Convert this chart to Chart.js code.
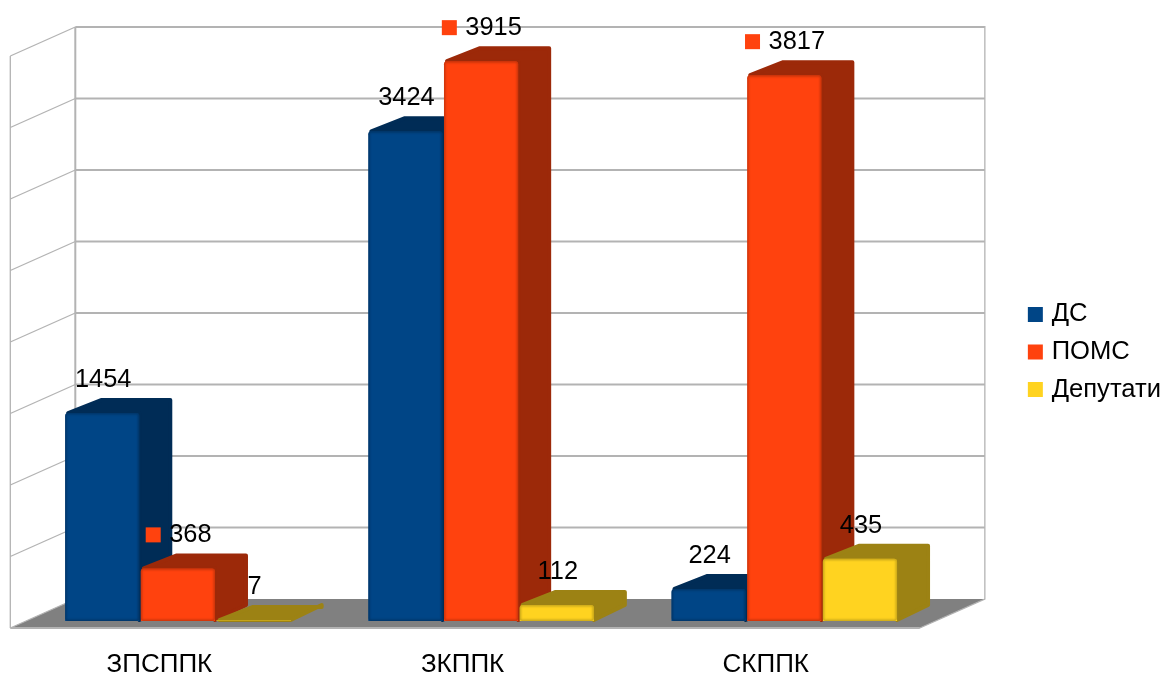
<!DOCTYPE html>
<html><head><meta charset="utf-8">
<style>html,body{margin:0;padding:0;background:#fff}canvas{display:block}</style>
<script src="https://cdn.jsdelivr.net/npm/chart.js@4"></script>
</head><body><canvas id="c" width="1163" height="677"></canvas>
<script>
const categories = ['ЗПСППК', 'ЗКППК', 'СКППК'];
const seriesDS = [1454, 3424, 224];
const seriesPOMS = [368, 3915, 3817];
const seriesDeputies = [7, 112, 435];
const gridValues = [0, 500, 1000, 1500, 2000, 2500, 3000, 3500, 4000];
const FONT = '"Liberation Sans", Arial, sans-serif';
const sideColors = ['#002c56', '#9c2909', '#9c8214'];
const edgeColors = ['#002c56', '#a82c0a', '#a88c16'];

function poly(ctx, pts){ ctx.beginPath(); pts.forEach((p,i)=> i?ctx.lineTo(p[0],p[1]):ctx.moveTo(p[0],p[1])); ctx.closePath(); }

const scene = {
  id:'scene',
  beforeDatasetsDraw(chart){
    const {ctx, chartArea:a, scales:{y}} = chart;
    const fl=a.left-16, bl=a.left+49, fr=a.right-16, br=a.right+49;
    const dB=-22, dF=7, y0=y.getPixelForValue(0), yT=y.getPixelForValue(4000);
    ctx.save();
    ctx.lineCap='butt';
    ctx.strokeStyle='#b3b3b3';
    ctx.fillStyle='#808080';
    poly(ctx,[[fl,y0+dF],[bl,y0+dB],[br,y0+dB],[fr,y0+dF]]); ctx.fill();
    gridValues.forEach(v=>{
      const p=y.getPixelForValue(v);
      ctx.lineWidth=1.3;
      ctx.beginPath(); ctx.moveTo(fl,p+dF); ctx.lineTo(bl,p+dB); ctx.stroke();
      ctx.lineWidth=2;
      if(v>0){ctx.beginPath(); ctx.moveTo(bl,p+dB); ctx.lineTo(br,p+dB); ctx.stroke();}
    });
    ctx.lineWidth=2;
    ctx.beginPath(); ctx.moveTo(bl,yT+dB); ctx.lineTo(bl,y0+dB); ctx.stroke();
    ctx.lineWidth=1.3;
    ctx.beginPath(); ctx.moveTo(br,yT+dB-1); ctx.lineTo(br,y0+dB); ctx.lineTo(fr,y0+dF); ctx.stroke();
    ctx.beginPath(); ctx.moveTo(fl,yT+dF); ctx.lineTo(fl,y0+dF); ctx.stroke();
    ctx.lineWidth=2;
    ctx.beginPath(); ctx.moveTo(fl,y0+dF); ctx.lineTo(fr,y0+dF); ctx.stroke();
    ctx.restore();
    chart.data.datasets.forEach((ds,di)=>{
      const meta=chart.getDatasetMeta(di);
      ctx.save();
      meta.data.forEach(el=>{
        const l=el.x-el.width/2, r=el.x+el.width/2, t=el.y, b=el.base;
        const dx=33, dy=-15;
        ctx.fillStyle=ctx.strokeStyle=sideColors[di];
        ctx.lineWidth=4; ctx.lineJoin='round';
        poly(ctx,[[l+3,t],[l+dx+3,t+dy+2],[r+dx-2,t+dy+2],[r+dx-2,b+dy-1],[r,b-1],[r,t]]);
        ctx.fill(); ctx.stroke();
      });
      meta.controller.draw();
      meta.data.forEach(el=>{
        const l=el.x-el.width/2, w=el.width, t=el.y, h=el.base-el.y;
        ctx.save();
        ctx.beginPath(); ctx.roundRect(l,t,w,h,3); ctx.clip();
        ctx.filter='blur(1.2px)';
        ctx.globalAlpha=0.75;
        ctx.strokeStyle=edgeColors[di]; ctx.lineWidth=2.5;
        ctx.strokeRect(l,t,w,h);
        ctx.restore();
      });
      ctx.restore();
    });
  },
  beforeDatasetDraw(){ return false; },
  afterDatasetsDraw(chart){
    const {ctx}=chart;
    ctx.save();
    ctx.font='25.4px '+FONT;
    ctx.textBaseline='middle'; ctx.textAlign='left';
    chart.data.datasets.forEach((ds,di)=>{
      chart.getDatasetMeta(di).data.forEach((el,i)=>{
        const s=String(ds.data[i]), w=ctx.measureText(s).width;
        const yc=el.y-33;
        if(ds.showKey){
          const x0=el.x-(15+7+w)/2;
          ctx.fillStyle=ds.backgroundColor;
          ctx.fillRect(x0,yc-8,15,15);
          ctx.fillStyle='#000';
          ctx.fillText(s,x0+23.5,yc);
        } else {
          ctx.fillStyle='#000';
          ctx.fillText(s,el.x-w/2+1,yc);
        }
      });
    });
    ctx.restore();
  }
};

new Chart(document.getElementById('c'),{
  type:'bar',
  data:{labels:categories,datasets:[
    {label:'ДС',data:seriesDS,backgroundColor:'#004586'},
    {label:'ПОМС',data:seriesPOMS,backgroundColor:'#ff420e',showKey:true},
    {label:'Депутати',data:seriesDeputies,backgroundColor:'#ffd320'}
  ]},
  plugins:[scene],
  options:{
    responsive:false,animation:false,
    layout:{padding:{left:26.3,right:-8,top:27,bottom:0}},
    datasets:{bar:{barPercentage:0.98,categoryPercentage:0.749,borderRadius:3,borderWidth:0}},
    plugins:{
      tooltip:{enabled:false},
      title:{display:false},
      legend:{position:'right',align:'center',labels:{
        color:'#000',font:{family:FONT,size:25.6},usePointStyle:true,pointStyle:'rect',
        boxWidth:7,boxHeight:15,padding:12}}
    },
    scales:{
      x:{grid:{display:false},border:{display:false},
         ticks:{color:'#000',font:{family:FONT,size:26},padding:20,labelOffset:-18.5,maxRotation:0,autoSkip:false},
         afterFit(s){s.height=56;}},
      y:{display:false,min:0,max:4000},
      padR:{type:'linear',position:'right',display:true,min:0,max:1,
         grid:{display:false},border:{display:false},ticks:{display:false},
         afterFit(s){s.width=84;}},
      padT:{type:'linear',axis:'x',position:'top',display:true,min:0,max:1,
         grid:{display:false},border:{display:false},ticks:{display:false},
         afterFit(s){s.height=22;}}
    }
  }
});
</script></body></html>
